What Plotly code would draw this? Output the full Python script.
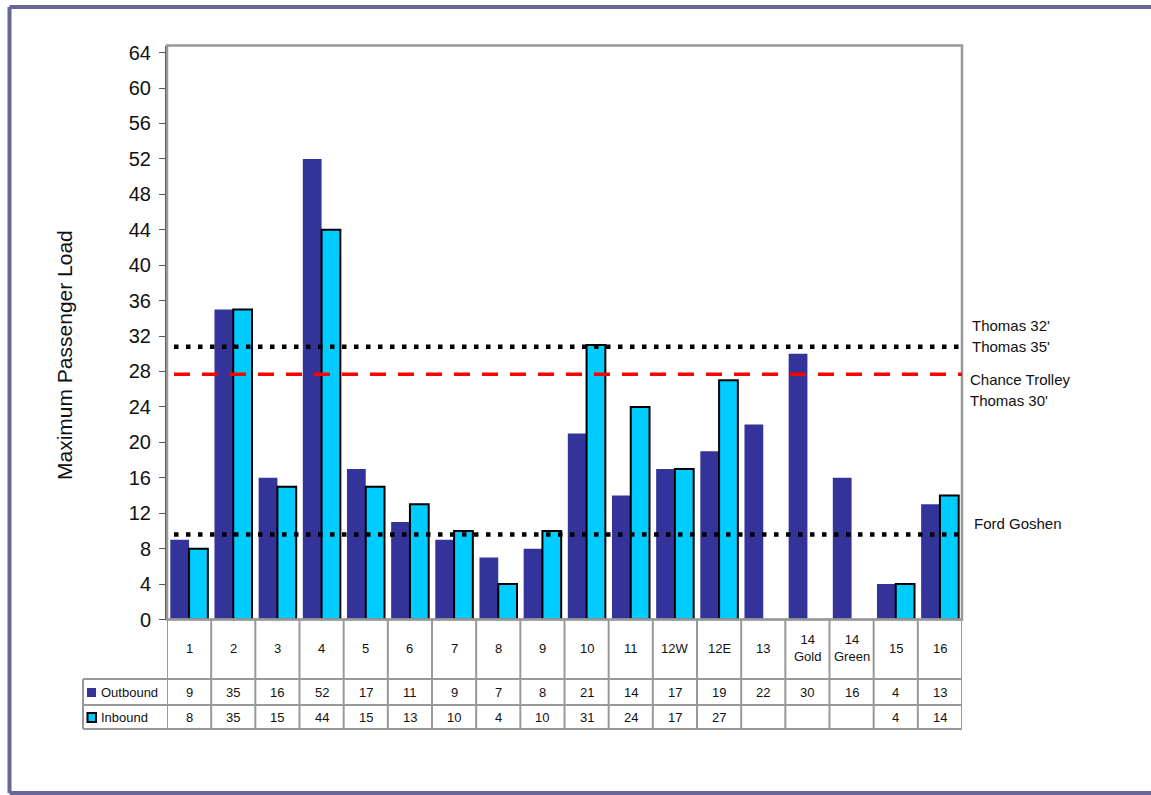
import plotly.graph_objects as go

W, H = 1151, 795

# Route data
routes = ["1", "2", "3", "4", "5", "6", "7", "8", "9", "10", "11",
          "12W", "12E", "13", "14 Gold", "14 Green", "15", "16"]
outbound = [9, 35, 16, 52, 17, 11, 9, 7, 8, 21, 14, 17, 19, 22, 30, 16, 4, 13]
inbound = [8, 35, 15, 44, 15, 13, 10, 4, 10, 31, 24, 17, 27, None, None, None, 4, 14]

# Vehicle capacity reference levels
capacity_levels = [30.8, 27.7, 9.6]
y_ticks = list(range(0, 65, 4))

OUT_COLOR = "#333399"
IN_COLOR = "#00ccff"
GRID = "#999999"
TXT = "#111111"
FONT = "Arial, Liberation Sans, sans-serif"


def px(x):
    return x / W


def py(y):
    return 1 - y / H


# plot area in pixels
PL, PR, PT, PB = 167, 962, 45.5, 619.5
# table rows in pixels
ROW_CAT_BOT, ROW_OUT_BOT, ROW_IN_BOT = 679, 705, 729
LEG_LEFT = 83

fig = go.Figure()
fig.add_trace(go.Bar(
    x=routes, y=outbound, name="Outbound",
    marker=dict(color=OUT_COLOR, line=dict(width=0)),
    showlegend=False,
))
fig.add_trace(go.Bar(
    x=routes, y=inbound, name="Inbound",
    marker=dict(color=IN_COLOR, line=dict(color="black", width=2)),
    showlegend=False,
))

shapes = []
annotations = []

# outer frame: top, left and bottom edges (open on the right)
frame = dict(color="#666699", width=4)
shapes.append(dict(type="line", xref="paper", yref="paper",
                   x0=px(9.5), x1=px(1200), y0=py(7), y1=py(7), line=frame))
shapes.append(dict(type="line", xref="paper", yref="paper",
                   x0=px(9.5), x1=px(9.5), y0=py(7), y1=py(793), line=frame))
shapes.append(dict(type="line", xref="paper", yref="paper",
                   x0=px(9.5), x1=px(1200), y0=py(793), y1=py(793), line=frame))

# plot area border
shapes.append(dict(type="rect", xref="paper", yref="paper",
                   x0=px(PL), x1=px(PR), y0=py(PB), y1=py(PT),
                   line=dict(color=GRID, width=2.5), layer="above"))

# reference lines
ref_styles = [
    dict(color="black", width=4.5, dash="4.5px,7.5px"),
    dict(color="#ff0000", width=3.5, dash="16px,12px"),
    dict(color="black", width=4.5, dash="4.5px,7.5px"),
]
for lvl, st in zip(capacity_levels, ref_styles):
    shapes.append(dict(type="line", xref="paper", yref="y",
                       x0=px(PL + 7), x1=px(PR), y0=lvl, y1=lvl,
                       line=st, layer="above"))

ref_labels = [
    ("Thomas 32'", capacity_levels[0], 21, 970),
    ("Thomas 35'", capacity_levels[0], 0, 970),
    ("Chance Trolley", capacity_levels[1], -5, 968),
    ("Thomas 30'", capacity_levels[1], -26, 968),
    ("Ford Goshen", capacity_levels[2], 11, 972),
]
for txt, lvl, shift, xl in ref_labels:
    annotations.append(dict(text=txt, xref="paper", yref="y",
                            x=px(xl), y=lvl, yshift=shift,
                            xanchor="left", yanchor="middle", showarrow=False,
                            font=dict(family=FONT, size=15, color=TXT)))

# data table grid
tbl_line = dict(color=GRID, width=2)
shapes.append(dict(type="line", xref="paper", yref="paper",
                   x0=px(PL), x1=px(PR), y0=py(PB), y1=py(PB), line=tbl_line))
for yy in (ROW_CAT_BOT, ROW_OUT_BOT, ROW_IN_BOT):
    shapes.append(dict(type="line", xref="paper", yref="paper",
                       x0=px(LEG_LEFT), x1=px(PR), y0=py(yy), y1=py(yy),
                       line=tbl_line))
shapes.append(dict(type="line", xref="paper", yref="paper",
                   x0=px(LEG_LEFT), x1=px(LEG_LEFT),
                   y0=py(ROW_CAT_BOT), y1=py(ROW_IN_BOT), line=tbl_line))
for k in range(len(routes) + 1):
    shapes.append(dict(type="line", xref="x", yref="paper",
                       x0=k - 0.5, x1=k - 0.5,
                       y0=py(PB), y1=py(ROW_IN_BOT), line=tbl_line))

cell_font = dict(family=FONT, size=13, color=TXT)


def cell(text, x, y_px, xref="x", xanchor="center"):
    return dict(text=text, xref=xref, yref="paper", x=x, y=py(y_px),
                xanchor=xanchor, yanchor="middle", showarrow=False,
                font=cell_font, align="center")


for i, r in enumerate(routes):
    annotations.append(cell(r.replace(" ", "<br>"), i, (PB + ROW_CAT_BOT) / 2 - 1))
    annotations.append(cell(str(outbound[i]), i, (ROW_CAT_BOT + ROW_OUT_BOT) / 2))
    annotations.append(cell("" if inbound[i] is None else str(inbound[i]),
                            i, (ROW_OUT_BOT + ROW_IN_BOT) / 2))

# legend keys in the table
shapes.append(dict(type="rect", xref="paper", yref="paper",
                   x0=px(87), x1=px(96), y0=py(688), y1=py(697),
                   fillcolor=OUT_COLOR, line=dict(width=0)))
shapes.append(dict(type="rect", xref="paper", yref="paper",
                   x0=px(87.5), x1=px(96), y0=py(713), y1=py(722),
                   fillcolor=IN_COLOR, line=dict(color="black", width=2)))
annotations.append(cell("Outbound", px(99), (ROW_CAT_BOT + ROW_OUT_BOT) / 2,
                        xref="paper", xanchor="left"))
annotations.append(cell("Inbound", px(99), (ROW_OUT_BOT + ROW_IN_BOT) / 2,
                        xref="paper", xanchor="left"))

# y-axis title
annotations.append(dict(text="Maximum Passenger Load", xref="paper", yref="paper",
                        x=px(64), y=py(355), textangle=-90, showarrow=False,
                        xanchor="center", yanchor="middle",
                        font=dict(family=FONT, size=21, color=TXT)))

fig.update_layout(
    width=W, height=H,
    margin=dict(l=0, r=0, t=0, b=0, autoexpand=False),
    paper_bgcolor="white", plot_bgcolor="white",
    barmode="group", bargap=0.15, bargroupgap=0,
    shapes=shapes, annotations=annotations,
    xaxis=dict(domain=[px(PL), px(PR)], type="category",
               range=[-0.5, len(routes) - 0.5],
               showticklabels=False, showgrid=False, zeroline=False,
               showline=False, ticks=""),
    yaxis=dict(domain=[py(PB), py(PT)], range=[0, 64.8],
               tickvals=y_ticks, ticks="outside", ticklen=6, tickwidth=1,
               tickcolor="#555555", showgrid=False, zeroline=False,
               showline=True, linecolor="#505050", linewidth=2,
               ticklabelstandoff=4,
               tickfont=dict(family=FONT, size=20, color=TXT)),
    font=dict(family=FONT),
)

fig.write_html("out.html")
